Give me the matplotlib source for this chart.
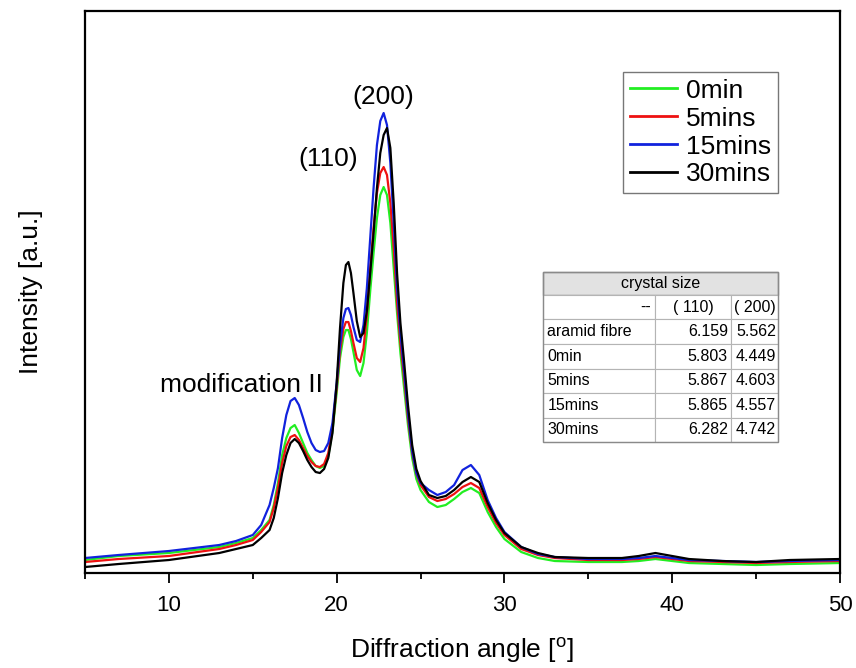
"""XRD patterns of aramid fibre after modification, with crystal-size inset table.

Outputs: out.png
"""
import matplotlib
matplotlib.use("Agg")
import matplotlib.pyplot as plt
from matplotlib.ticker import MultipleLocator

plt.rcParams["font.family"] = ["Liberation Sans", "DejaVu Sans"]
plt.rcParams["mathtext.fontset"] = "custom"
plt.rcParams["mathtext.rm"] = "Liberation Sans"

# ----- diffraction patterns (arbitrary units) -----
ANGLE = [5, 7, 10, 13, 14, 15, 15.5,
         16, 16.25, 16.5, 16.75, 17, 17.25, 17.5, 17.75, 18, 18.25, 18.5, 18.75,
         19, 19.25, 19.5, 19.75, 20, 20.2, 20.4, 20.55, 20.7, 20.85, 21.0, 21.2,
         21.4, 21.6, 21.8, 22.0, 22.2, 22.4, 22.6, 22.8, 23.0, 23.2, 23.4, 23.6,
         23.8, 24.0, 24.25, 24.5, 24.75, 25.0,
         25.5, 26.0, 26.5, 27.0, 27.5, 28.0, 28.5, 29.0, 29.5, 30.0,
         31.0, 32.0, 33.0, 35, 37, 38, 39, 40, 41, 43, 45, 47, 50]

I_0MIN = [13, 17, 20, 26, 30, 35, 43,
          53, 68, 90, 118, 135, 145, 148, 140, 130, 120, 113, 107,
          105, 107, 117, 142, 180, 215, 236, 243, 243, 234, 221, 203,
          197, 210, 240, 282, 320, 355, 378, 386, 378, 350, 305, 260,
          220, 188, 148, 115, 94, 83,
          71, 66, 68, 74, 81, 85, 80, 61, 46, 34,
          21, 15, 12, 11, 11, 12, 14, 12, 10, 9, 8, 9, 10]
I_5MIN = [11, 14, 17, 24, 28, 33, 41,
          51, 65, 85, 110, 127, 136, 138, 133, 125, 117, 111, 107,
          106, 109, 120, 145, 185, 222, 244, 251, 251, 242, 230, 215,
          211, 225, 258, 305, 345, 380, 400, 406, 398, 370, 325, 270,
          230, 198, 155, 120, 99, 88,
          76, 72, 74, 79, 86, 90, 85, 66, 50, 38,
          24, 18, 15, 13, 13, 14, 16, 14, 12, 11, 10, 11, 12]
I_15MIN = [15, 18, 22, 28, 32, 38, 48,
           68, 85, 105, 135, 158, 172, 175, 168, 155, 141, 130, 123,
           121, 122, 130, 150, 190, 228, 255, 264, 265, 258, 246, 233,
           231, 248, 285, 335, 385, 428, 452, 460, 448, 410, 350, 285,
           240, 205, 160, 122, 100, 90,
           83, 78, 81, 88, 103, 108, 98, 73, 55, 41,
           26, 19, 16, 14, 14, 15, 17, 15, 13, 12, 11, 12, 13]
I_30MIN = [6, 9, 13, 20, 24, 28, 35,
           43, 55, 75, 100, 118, 130, 134, 130, 122, 113, 106, 101,
           100, 104, 115, 140, 190, 245, 290, 308, 311, 300, 280, 252,
           236, 240, 262, 300, 340, 385, 420, 438, 445, 425, 370, 300,
           250, 215, 168, 128, 104, 92,
           78, 75, 77, 83, 91, 96, 91, 70, 53, 40,
           26, 20, 16, 15, 15, 17, 20, 17, 14, 12, 11, 13, 14]

SERIES = [("0min", I_0MIN, "#22ee22"),
          ("5mins", I_5MIN, "#ee1111"),
          ("15mins", I_15MIN, "#1122dd"),
          ("30mins", I_30MIN, "#000000")]

# ----- crystal size table -----
TABLE_ROWS = ["--", "aramid fibre", "0min", "5mins", "15mins", "30mins"]
SIZE_110 = ["( 110)", "6.159", "5.803", "5.867", "5.865", "6.282"]
SIZE_200 = ["( 200)", "5.562", "4.449", "4.603", "4.557", "4.742"]


def main() -> None:
    fig = plt.figure(figsize=(8.56, 6.68), dpi=100)
    ax = fig.add_axes([0.0993, 0.1422, 0.8820, 0.8413])

    for label, vals, color in SERIES:
        ax.plot(ANGLE, vals, color=color, lw=1.6, label=label)

    ax.set_xlim(5, 50)
    ax.set_ylim(0, 562)
    ax.set_yticks([])
    ax.xaxis.set_major_locator(MultipleLocator(10))
    ax.xaxis.set_minor_locator(MultipleLocator(5))
    ax.tick_params(axis="x", which="major", direction="out", length=7,
                   width=1.3, labelsize=16, pad=9)
    ax.tick_params(axis="x", which="minor", direction="out", length=4, width=1.3)
    for sp in ax.spines.values():
        sp.set_linewidth(1.6)

    ax.set_xlabel(r"Diffraction angle [$^\mathrm{o}$]", fontsize=19, labelpad=14)
    ax.set_ylabel("Intensity [a.u.]", fontsize=19, labelpad=30)

    # peak annotations
    ax.text(22.8, 476, "(200)", ha="center", va="center", fontsize=19)
    ax.text(19.5, 414, "(110)", ha="center", va="center", fontsize=19)
    ax.text(14.3, 188, "modification II", ha="center", va="center", fontsize=19)

    leg = ax.legend(loc="upper right", bbox_to_anchor=(0.918, 0.8915),
                    borderaxespad=0, fontsize=19, frameon=True, fancybox=False,
                    handlelength=1.8, handletextpad=0.35, labelspacing=0.15,
                    borderpad=0.25)
    leg.get_frame().set_edgecolor("#555555")
    leg.get_frame().set_linewidth(1.0)
    for line in leg.get_lines():
        line.set_linewidth(2.0)

    # inset table: header row + body
    head = ax.table(cellText=[["crystal size"]], cellLoc="center",
                    bbox=[0.6066, 0.4947, 0.3113, 0.0409])
    hc = head[0, 0]
    hc.set_facecolor("#e2e2e2")
    hc.set_edgecolor("#8a8a8a")
    hc.get_text().set_fontsize(11.5)

    body_text = [[r, a, b] for r, a, b in zip(TABLE_ROWS, SIZE_110, SIZE_200)]
    body = ax.table(cellText=body_text, cellLoc="right",
                    colWidths=[112, 76, 47],
                    bbox=[0.6066, 0.2331, 0.3113, 0.2616])
    body.auto_set_font_size(False)
    head.auto_set_font_size(False)
    for (r, c), cell in body.get_celld().items():
        cell.set_edgecolor("#b4b4b4")
        cell.set_linewidth(0.8)
        cell.get_text().set_fontsize(11.5)
        cell.PAD = 0.04
        if c == 0 and r > 0:
            cell._loc = "left"
            cell.get_text().set_ha("left")
        if r == 0 and c > 0:
            cell._loc = "center"
            cell.get_text().set_ha("center")
    # darker outer border
    ax.add_patch(plt.Rectangle((0.6066, 0.2331), 0.3113, 0.3025,
                               transform=ax.transAxes, fill=False,
                               edgecolor="#8a8a8a", lw=1.0, zorder=5))

    fig.savefig("out.png", dpi=100)


if __name__ == "__main__":
    main()
